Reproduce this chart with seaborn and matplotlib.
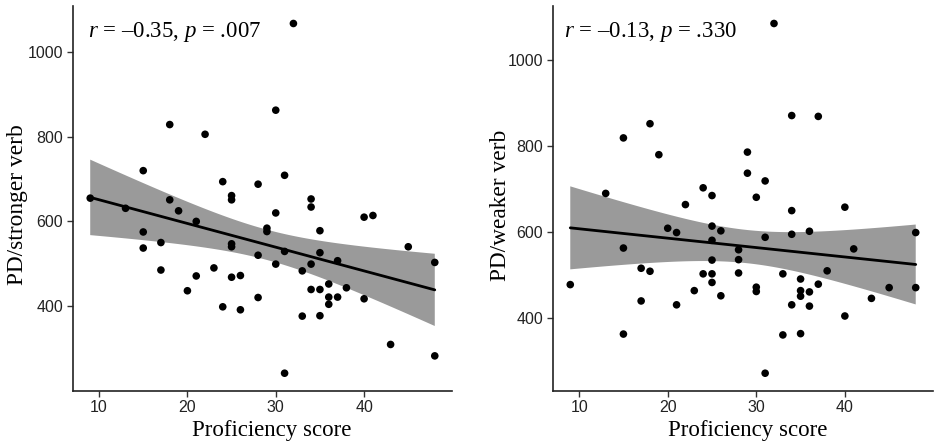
import numpy as np
import pandas as pd
import matplotlib
matplotlib.use("Agg")
import matplotlib.pyplot as plt
import seaborn as sns

# ---- data ----
strong_x = [9, 13, 15, 15, 15, 17, 17, 18, 18, 19, 20, 21, 21, 22, 23, 24, 24,
            25, 25, 25, 25, 25, 26, 26, 28, 28, 28, 29, 29, 30, 30, 30, 31, 31,
            31, 32, 33, 33, 34, 34, 34, 34, 35, 35, 35, 35, 36, 36, 36, 37, 37,
            38, 40, 41, 40, 43, 45, 48, 48]
strong_y = [655, 631, 720, 575, 537, 550, 485, 829, 651, 625, 436, 600, 471, 806,
            490, 694, 398, 661, 651, 547, 540, 468, 472, 391, 688, 520, 420, 584,
            576, 863, 620, 499, 709, 529, 241, 1068, 483, 376, 653, 634, 499, 439,
            578, 526, 439, 377, 452, 421, 404, 507, 421, 443, 610, 614, 417, 309,
            540, 503, 282]

weak_x = [9, 13, 15, 15, 15, 17, 17, 18, 18, 19, 20, 21, 21, 22, 23, 24, 24,
          25, 25, 25, 25, 25, 25, 26, 26, 28, 28, 28, 29, 29, 30, 30, 30, 31, 31,
          31, 32, 33, 33, 34, 34, 34, 34, 35, 35, 35, 35, 36, 36, 36, 37, 37, 38,
          40, 40, 41, 43, 45, 48, 48]
weak_y = [477, 689, 818, 562, 362, 515, 439, 851, 508, 779, 608, 598, 430, 663,
          463, 702, 502, 684, 613, 580, 534, 502, 482, 602, 451, 558, 535, 504,
          785, 736, 680, 471, 461, 718, 587, 271, 1084, 502, 360, 870, 649, 594,
          430, 490, 463, 450, 363, 601, 460, 427, 868, 478, 509, 657, 404, 560,
          445, 470, 598, 470]

x_ticks = [10, 20, 30, 40]
y_ticks = [400, 600, 800, 1000]
x_label = "Proficiency score"
y_labels = ["PD/stronger verb", "PD/weaker verb"]
annotations = ["$r$ = \u20130.35, $p$ = .007", "$r$ = \u20130.13, $p$ = .330"]

df_strong = pd.DataFrame({"prof": strong_x, "pd": strong_y})
df_weak = pd.DataFrame({"prof": weak_x, "pd": weak_y})

T975 = 2.002  # t quantile (0.975) for ~58 degrees of freedom


def analytic_band(x, y, grid):
    x = np.asarray(x, float)
    y = np.asarray(y, float)
    n = len(x)
    b, a = np.polyfit(x, y, 1)
    resid = y - (a + b * x)
    s = np.sqrt(np.sum(resid ** 2) / (n - 2))
    sxx = np.sum((x - x.mean()) ** 2)
    fit = a + b * grid
    se = s * np.sqrt(1.0 / n + (grid - x.mean()) ** 2 / sxx)
    return fit - T975 * se, fit + T975 * se


# ---- style ----
sns.set_style("ticks")
plt.rcParams["font.family"] = ["Liberation Sans", "DejaVu Sans"]
plt.rcParams["mathtext.fontset"] = "custom"
plt.rcParams["mathtext.rm"] = "Liberation Serif"
plt.rcParams["mathtext.it"] = "Liberation Serif:italic"

fig = plt.figure(figsize=(9.34, 4.45), dpi=100)
ax1 = fig.add_axes([73 / 934, 54.3 / 445, 379 / 934, 384.7 / 445])
ax2 = fig.add_axes([553 / 934, 54.3 / 445, 380 / 934, 384.7 / 445])

panels = [
    (ax1, df_strong, y_labels[0], annotations[0], 0.04, 0, 0.525),
    (ax2, df_weak, y_labels[1], annotations[1], 0.029, -2, 0.512),
]

serif = ["Liberation Serif", "DejaVu Serif"]

for ax, df, ylab, ann, ann_x, lpad, xlab_x in panels:
    sns.regplot(data=df, x="prof", y="pd", ax=ax, ci=None,
                scatter_kws=dict(s=30, color="black", edgecolor="none",
                                 alpha=1, zorder=4),
                line_kws=dict(color="black", lw=2, zorder=3))
    grid = np.linspace(df["prof"].min(), df["prof"].max(), 100)
    lo, hi = analytic_band(df["prof"], df["pd"], grid)
    ax.fill_between(grid, lo, hi, facecolor="#9a9a9a", edgecolor="none",
                    zorder=2)
    # limits with 5% expansion like ggplot
    xmin, xmax = df["prof"].min(), df["prof"].max()
    ymin, ymax = df["pd"].min(), df["pd"].max()
    xr, yr = xmax - xmin, ymax - ymin
    ax.set_xlim(xmin - 0.05 * xr, xmax + 0.05 * xr)
    ax.set_ylim(ymin - 0.05 * yr, ymax + 0.05 * yr)
    ax.set_xticks(x_ticks)
    ax.set_yticks(y_ticks)
    ax.tick_params(axis="both", labelsize=11.5, length=4, width=1,
                   color="#333333", labelcolor="#222222", direction="out", pad=3)
    ax.set_xlabel(x_label, family=serif, fontsize=16.5, labelpad=3, color="black")
    ax.set_ylabel(ylab, family=serif, fontsize=16.8, labelpad=lpad, color="black")
    ax.xaxis.label.set_x(xlab_x)
    ax.yaxis.label.set_y(0.483)
    sns.despine(ax=ax)
    for s in ["left", "bottom"]:
        ax.spines[s].set_linewidth(1.2)
        ax.spines[s].set_color("#222222")
    ax.text(ann_x, 0.932, ann, transform=ax.transAxes, ha="left", va="center",
            family=serif, fontsize=16.5, color="black")

fig.savefig("out.png", dpi=100, facecolor="white")
